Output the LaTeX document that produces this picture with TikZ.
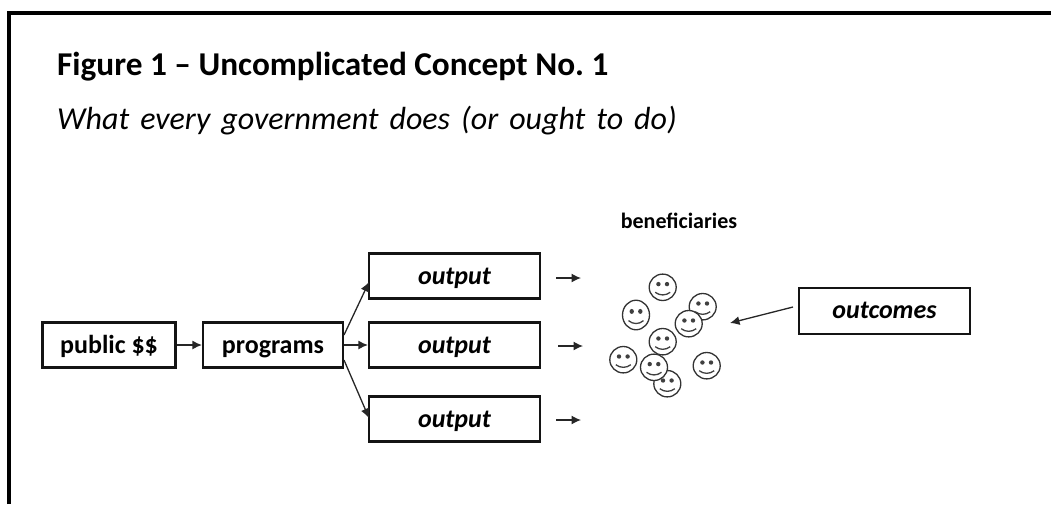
\documentclass[tikz,border=0pt]{standalone}
\usepackage{fontspec}
\usetikzlibrary{arrows.meta,calc}
\setmainfont{Carlito}
\tikzset{
  x=1pt,y=-1pt,
  box/.style={draw=black!92,line width=2.2pt,fill=white,inner sep=0pt,minimum height=45pt,text height=18pt,text depth=2pt,font=\fontsize{26}{30}\bfseries},
  itbox/.style={box,font=\fontsize{26}{30}\bfseries\itshape},
  arr/.style={draw=black!85,line width=1.3pt,-{Latex[length=9.5pt,width=9pt]}},
  smiley/.pic={
    \draw[black!80,line width=1.3pt,fill=white] (0,0) ellipse[x radius=13.5,y radius=13.2];
    \fill[black!75] (-4.3,-3.2) circle[radius=2.2];
    \fill[black!75] (4.3,-3.2) circle[radius=2.2];
    \draw[black!75,line width=1.3pt] (-7.5,5) .. controls (-3,8.5) and (3,8.5) .. (7.5,5);
  }
}
\begin{document}
\frenchspacing
\begin{tikzpicture}
\useasboundingbox (0,0) rectangle (1051,504);
\draw[black,line width=3.6pt,line cap=butt] (9,504) -- (9,12.8) -- (1051,12.8);
\node[anchor=base west,inner sep=0pt,font=\fontsize{33.3}{38}\bfseries] (title) at (57,75) {Figure 1 – Uncomplicated Concept No. 1};
\node[anchor=base west,inner sep=0pt,font=\fontsize{32}{36}\itshape] (sub) at (57,129) {\spaceskip=11pt\relax What every government does (or ought to do)};
\node[anchor=base,font=\fontsize{22}{26}\bfseries,inner sep=0pt] (ben) at (679,228) {beneficiaries};
\node[box,minimum width=133pt] (pub) at (109,345) {public \$\$};
\node[box,minimum width=140pt] (prog) at (273,345) {programs};
\node[itbox,minimum width=171pt] (o1) at (454.5,276) {output};
\node[itbox,minimum width=171pt] (o2) at (454.5,345) {output};
\node[itbox,minimum width=171pt] (o3) at (454.5,419) {output};
\node[itbox,minimum width=171pt,minimum height=46pt,text height=17pt,text depth=3pt] (oc) at (884.5,311) {outcomes};
\coordinate (p1) at (344,335);
\coordinate (p3) at (344,360);
\coordinate (t1) at (369,282);
\coordinate (t3) at (369,418);
\coordinate (a1) at (556,278); \coordinate (b1) at (581,278);
\coordinate (a2) at (558,346); \coordinate (b2) at (583,346);
\coordinate (a3) at (556,420); \coordinate (b3) at (581,420);
\coordinate (oa) at (793,307); \coordinate (ob) at (730,323);
\draw[arr] (pub.east) -- (prog.west);
\draw[arr] (p1) -- (t1);
\draw[arr] (prog.east) -- (o2.west);
\draw[arr] (p3) -- (t3);
\draw[arr] (a1) -- (b1);
\draw[arr] (a2) -- (b2);
\draw[arr] (a3) -- (b3);
\draw[arr] (oa) -- (ob);
\pic at (662.7,287.3) {smiley};
\pic[yscale=1.12] at (636,315) {smiley};
\pic at (702.7,306.7) {smiley};
\pic at (688.7,323.7) {smiley};
\pic at (662.7,341.7) {smiley};
\pic at (623.3,359.7) {smiley};
\pic at (667.3,383.7) {smiley};
\pic at (654,367.3) {smiley};
\pic at (706.7,365.7) {smiley};
\end{tikzpicture}
\end{document}
